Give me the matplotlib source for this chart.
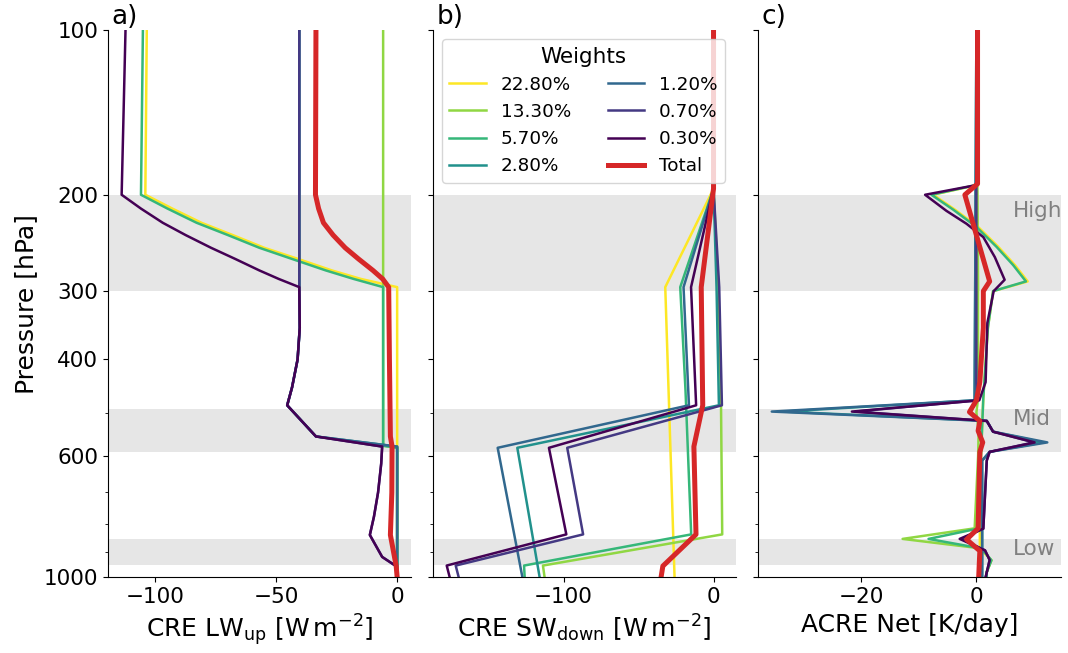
import numpy as np
import matplotlib.pyplot as plt
from matplotlib import transforms
from matplotlib.ticker import FixedLocator, NullFormatter

# =========================
# Data
# =========================
weights = ['22.80%', '13.30%', '5.70%', '2.80%', '1.20%', '0.70%', '0.30%']

# pressure levels for the grey cloud bands [hPa]
band_names = ['High', 'Mid', 'Low']
band_top = [200, 493, 850]
band_bottom = [300, 591, 950]
band_label_p = [205, 493, 850]

# --- a) CRE LW up, one (pressure, value) list per weight ---
lw_p = [
    [100, 200, 212, 225, 237, 250, 262, 275, 285, 295, 1000],
    [100, 300, 575, 580, 1000],
    [100, 200, 212, 225, 237, 250, 262, 275, 285, 295, 575, 580, 1000],
    [100, 300, 350, 400, 450, 485, 553, 577, 1000],
    [100, 300, 350, 400, 450, 485, 553, 577, 1000],
    [100, 295, 350, 400, 450, 485, 553, 577, 620, 700, 775, 837, 918, 954, 1000],
    [100, 200, 212, 225, 237, 250, 262, 275, 285, 295, 350, 400, 450, 485, 553, 577, 620, 700, 775, 837,
     918, 954, 1000],
]
lw_val = [
    [-103.6, -104.2, -93, -81, -68, -55, -41, -27, -15, 0, 0],
    [-5.8, -5.8, -5.8, 0, 0],
    [-105.2, -106.0, -95, -83, -70, -57, -43.5, -29.5, -18, -5.8, -5.8, 0, 0],
    [-40.5, -40.5, -40.3, -41.2, -43.5, -45.5, -33.6, 0, 0],
    [-40.5, -40.5, -40.3, -41.2, -43.5, -45.5, -33.6, 0, 0],
    [-40.5, -40.5, -40.3, -41.2, -43.5, -45.5, -33.6, -6.2, -6.6, -7.9, -9.6, -11.3, -6.2, -0.5, 0],
    [-112.4, -114.0, -106, -97, -87.5, -77, -67, -57, -49, -40.5, -40.3, -41.2, -43.5, -45.5, -33.6, -6.2,
     -6.6, -7.9, -9.6, -11.3, -6.2, -0.5, 0],
]
lw_tot_p = [100, 200, 212, 225, 237, 250, 262, 275, 285, 295, 400, 553, 577, 700, 837, 954, 1000]
lw_tot = [-33.6, -33.8, -32.5, -30.5, -26.5, -21.5, -16, -10, -6, -3.5, -3.2, -2.8, -2.1, -2.2, -2.8, -0.4, 0]

# --- b) CRE SW down ---
sw_p = [
    [100, 195, 295, 1000],
    [100, 195, 295, 485, 835, 952, 1000],
    [100, 195, 295, 455, 835, 952, 1000],
    [100, 195, 295, 485, 580, 1000],
    [100, 195, 295, 485, 580, 1000],
    [100, 195, 295, 485, 580, 835, 952, 1000],
    [100, 195, 295, 485, 580, 835, 952, 1000],
]
sw_val = [
    [0, 0, -32.2, -26],
    [0, 0, 3.2, 5.0, 5.8, -113.8, -112.7],
    [0, 0, -22.2, -18.7, -14.9, -126.4, -126.0],
    [0, 0, 2.0, 3.6, -130.9, -116],
    [0, 0, -20.0, -16.4, -144, -127.5],
    [0, 0, 3.8, 5.6, -97.6, -87, -172, -170],
    [0, 0, -15.0, -11.6, -109.8, -98.2, -178, -176],
]
sw_tot_p = [100, 195, 295, 485, 577, 835, 954, 1000]
sw_tot = [0, 0, -8.2, -7.2, -13.1, -11.7, -33.8, -35]

# --- c) ACRE net ---
acre_p = [
    [100, 192, 200, 213, 229, 249, 269, 288, 300, 350, 470, 600, 814, 886, 931, 978, 1000],
    [100, 300, 470, 500, 540, 600, 814, 851, 886, 931, 978, 1000],
    [100, 192, 200, 213, 229, 249, 269, 288, 300, 350, 470, 600, 814, 851, 886, 931, 978, 1000],
    [100, 475, 498, 518, 542, 567, 590, 612, 1000],
    [100, 475, 498, 518, 542, 567, 590, 612, 1000],
    [100, 440, 475, 498, 518, 542, 567, 590, 612, 815, 851, 893, 930, 1000],
    [100, 192, 200, 214, 226, 239, 260, 286, 300, 343, 440, 475, 498, 518, 542, 567, 590, 612, 815, 851,
     893, 930, 1000],
]
acre_val = [
    [0, 0, -7.5, -3.7, 0.3, 3.8, 6.7, 8.9, 2.9, 2.0, 1.2, 0.8, 0.6, 0.6, 2.6, 1.8, 1.8],
    [0, 0.3, 0.3, 0, 0.4, 0.3, -0.3, -12.8, 0.9, 2.6, 1.8, 1.8],
    [0, 0, -7.8, -4.0, 0, 3.5, 6.4, 8.6, 2.9, 2.0, 1.2, 0.8, 0.5, -8.3, 0.9, 2.6, 1.8, 1.8],
    [0, -0.3, -33.5, 1.8, 2.9, 11.5, 2.3, 1.0, 1.0],
    [0, -0.3, -35.5, 1.8, 2.9, 12.3, 2.3, 1.0, 1.0],
    [0, 0, 0.3, -21.0, 1.8, 2.9, 10.0, 2.3, 1.8, 1.2, -2.6, 1.5, 2.3, 1.6],
    [0, 0, -8.9, -5.2, -1.7, 1.2, 3.2, 4.9, 3.0, 1.9, 1.6, 0.5, -21.6, 1.8, 2.9, 10.1, 2.3, 1.8, 1.2, -2.9,
     1.5, 2.3, 1.6],
]
acre_tot_p = [100, 191, 200, 288, 300, 350, 440, 475, 499, 518, 540, 567, 590, 814, 853, 895, 1000]
acre_tot = [0.2, 0.2, -2.0, 2.3, 1.2, 1.2, 0.6, 0.0, -1.2, 0.6, 0.3, 1.1, 0.6, 0.3, -1.7, 0.6, 0.4]

xlabels = [r'CRE LW$_{\mathrm{up}}$ [W$\,$m$^{-2}$]',
           r'CRE SW$_{\mathrm{down}}$ [W$\,$m$^{-2}$]',
           'ACRE Net [K/day]']
tags = ['a)', 'b)', 'c)']

# =========================
# Plot
# =========================
fig, axes = plt.subplots(1, 3, figsize=(10.68, 6.53), dpi=100, sharey=True)
fig.subplots_adjust(left=0.101, right=0.9935, top=0.954, bottom=0.116, wspace=0.0726)

colors = plt.cm.viridis(np.linspace(1, 0, len(weights)))

panels = [(lw_p, lw_val, lw_tot_p, lw_tot),
          (sw_p, sw_val, sw_tot_p, sw_tot),
          (acre_p, acre_val, acre_tot_p, acre_tot)]

for ax, (ps, vals, tp, tv), xl, tag in zip(axes, panels, xlabels, tags):
    for i, w in enumerate(weights):
        ax.plot(vals[i], ps[i], color=colors[i], lw=1.8, label=w)
    ax.plot(tv, tp, color='tab:red', lw=3.6, label='Total')

    for top, bot in zip(band_top, band_bottom):
        ax.axhspan(top, bot, color='0.9', lw=0, zorder=0)

    ax.set_yscale('log')
    ax.set_ylim(1000, 100)
    ax.set_yticks([100, 200, 300, 400, 600, 1000])
    ax.set_yticklabels(['100', '200', '300', '400', '600', '1000'])
    ax.yaxis.set_minor_locator(FixedLocator([500, 700, 800, 900]))
    ax.yaxis.set_minor_formatter(NullFormatter())

    ax.spines['top'].set_visible(False)
    ax.spines['right'].set_visible(False)
    ax.tick_params(labelsize=15.5)
    ax.set_xlabel(xl, fontsize=18)
    ax.text(0.012, 1.0, tag, transform=ax.transAxes, fontsize=19, va='bottom')

axes[0].set_ylabel('Pressure [hPa]', fontsize=18)

axes[1].legend(ncol=2, title='Weights', loc='upper left', fontsize=13.2, title_fontsize=15.5)

# band names, left-aligned near the right edge of panel c
trans = transforms.blended_transform_factory(axes[2].transAxes, axes[2].transData)
for name, lp in zip(band_names, band_label_p):
    axes[2].text(0.842, lp, name, transform=trans, ha='left', va='top', color='gray', fontsize=15.5)

plt.savefig('out.png', dpi=100)
